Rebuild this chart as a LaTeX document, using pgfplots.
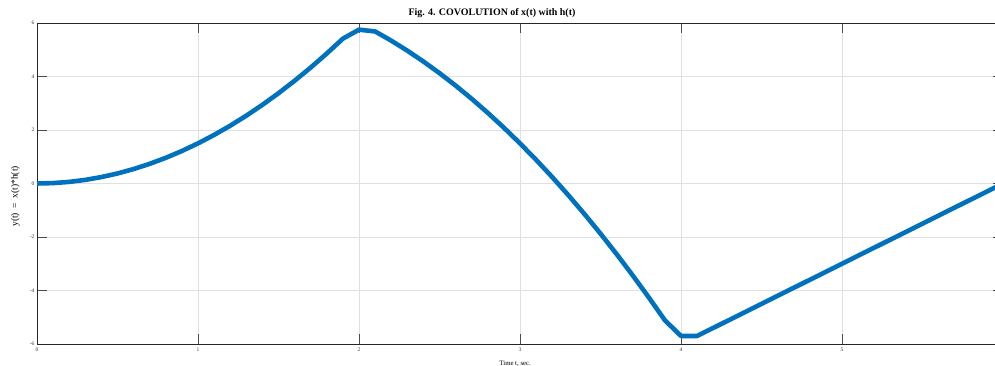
\documentclass[border=0pt]{standalone}
\usepackage{pgfplots}
\pgfplotsset{compat=1.18}
\usepackage{fontspec}
\setmainfont{Liberation Serif}
\definecolor{mblue}{RGB}{0,114,189}
\definecolor{axgray}{RGB}{38,38,38}
\begin{document}
\begin{tikzpicture}[x=1bp,y=1bp]
\begin{axis}[
  at={(37bp,22bp)}, anchor=south west,
  scale only axis, width=966bp, height=321bp,
  xmin=0, xmax=6, ymin=-6, ymax=6,
  xtick={0,1,2,3,4,5}, ytick={-6,-4,-2,0,2,4,6},
  grid=major, major grid style={color=black!12, line width=0.6bp},
  axis line style={color=axgray, line width=0.9bp},
  tick align=inside, major tick length=10bp,
  tick style={color=black!70, line width=0.9bp},
  xtick pos=both, ytick pos=both,
  /pgf/number format/assume math mode=true,
  ticklabel style={font=\fontsize{5.5}{6}\selectfont, text=black!80},
  xticklabel style={yshift=0bp},
  yticklabel style={xshift=1bp},
  title={Fig. 4. COVOLUTION of x(t) with h(t)},
  title style={font=\bfseries\fontsize{10}{12}\selectfont, at={(0.471,1.013)}, anchor=center},
  xlabel={Time t, sec.},
  xlabel style={font=\fontsize{6.8}{8}\selectfont, at={(0.495,-0.0623)}, anchor=center},
  ylabel={y(t) \ = \ x(t)*h(t)},
  ylabel style={font=\fontsize{9.5}{10}\selectfont, at={(-0.0225,0.46)}, anchor=center},
]
\addplot[color=mblue, line width=4.6bp, line join=round] coordinates {
(0.0,0.0) (0.1,0.015) (0.2,0.06) (0.3,0.135) (0.4,0.24) (0.5,0.375)
(0.6,0.54) (0.7,0.735) (0.8,0.96) (0.9,1.215) (1.0,1.5)
(1.1,1.815) (1.2,2.16) (1.3,2.535) (1.4,2.94) (1.5,3.375)
(1.6,3.84) (1.7,4.335) (1.8,4.86) (1.9,5.415) (2.0,5.75)
(2.1,5.685) (2.2,5.34) (2.3,4.965) (2.4,4.56) (2.5,4.125)
(2.6,3.66) (2.7,3.165) (2.8,2.64) (2.9,2.085) (3.0,1.5)
(3.1,0.885) (3.2,0.24) (3.3,-0.435) (3.4,-1.14) (3.5,-1.875)
(3.6,-2.64) (3.7,-3.435) (3.8,-4.26) (3.9,-5.115) (4.0,-5.7)
(4.1,-5.7) (4.5,-4.5) (5.0,-3.0) (5.5,-1.5) (6.0,0.0)
};
\end{axis}
\pgfresetboundingbox
\useasboundingbox (0bp,0bp) rectangle (995bp,366bp);
\end{tikzpicture}
\end{document}
